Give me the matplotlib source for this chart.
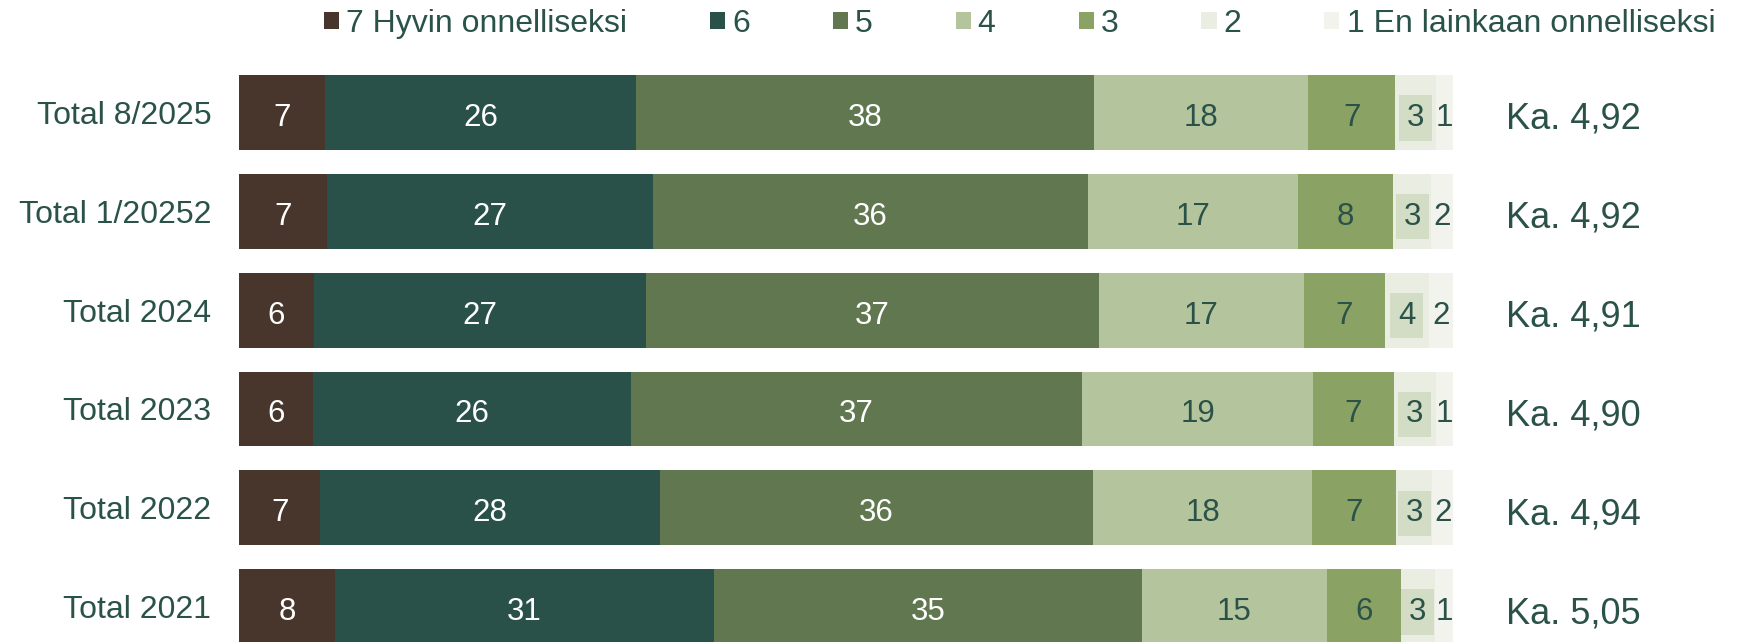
import matplotlib
matplotlib.use("Agg")
import matplotlib.pyplot as plt
from matplotlib.patches import Patch
import matplotlib.transforms as mtransforms

plt.rcParams['font.family'] = ['Liberation Sans', 'DejaVu Sans']

rows = ["Total 8/2025", "Total 1/20252", "Total 2024", "Total 2023", "Total 2022", "Total 2021"]
v7 = [7.11, 7.27, 6.18, 6.12, 6.70, 7.93]
v6 = [25.57, 26.85, 27.36, 26.17, 28.00, 31.19]
v5 = [37.72, 35.81, 37.30, 37.15, 35.65, 35.24]
v4 = [17.69, 17.30, 16.89, 19.03, 18.04, 15.26]
v3 = [7.14, 7.83, 6.67, 6.67, 6.92, 6.07]
v2 = [3.38, 3.13, 3.62, 3.45, 2.99, 2.83]
v1 = [1.40, 1.81, 1.98, 1.41, 1.71, 1.48]
means = [4.92, 4.92, 4.91, 4.90, 4.94, 5.05]
legend_labels = ["7 Hyvin onnelliseksi", "6", "5", "4", "3", "2", "1 En lainkaan onnelliseksi"]

series = [v7, v6, v5, v4, v3, v2, v1]
colors = ["#48352C", "#29514A", "#61774F", "#B4C49C", "#8AA263", "#E9EDE2", "#F1F3EC"]
txt_colors = ["white", "white", "white", "#2B5249", "#2B5249", "#2B5249", "#2B5249"]
dark = "#2B5249"

fig = plt.figure(figsize=(17.44, 6.42), dpi=100)
ax = fig.add_axes([239 / 1744, 0, 1214 / 1744, 1])

y = list(range(len(rows)))
left = [0.0] * len(rows)
for k, vals in enumerate(series):
    ax.barh(y, vals, left=left, height=0.757, color=colors[k], linewidth=0)
    for i, v in enumerate(vals):
        cx = left[i] + v / 2
        if k == 5:
            ax.text(cx, i + 0.02, f"{v:.0f}", ha="center", va="center_baseline", fontsize=22.5,
                    color=txt_colors[k],
                    bbox=dict(boxstyle="square,pad=0.25", fc="#D3DDC5", ec="none"))
        else:
            ax.text(cx, i + 0.02, f"{v:.0f}", ha="center", va="center_baseline", fontsize=22.5,
                    color=txt_colors[k])
    left = [a + b for a, b in zip(left, vals)]

ax.set_xlim(0, 100)
ax.set_ylim(5.356, -1.1355)
ax.set_yticks(y)
ax.set_yticklabels(rows, fontsize=23, color=dark, va="center_baseline")
ax.tick_params(axis="y", length=0, pad=20)
ax.set_xticks([])
for s in ax.spines.values():
    s.set_visible(False)

trans = mtransforms.blended_transform_factory(fig.transFigure, ax.transData)
for i, m in enumerate(means):
    ax.text(1573 / 1744, i + 0.03, "Ka. " + f"{m:.2f}".replace(".", ","), transform=trans,
            ha="center", va="center_baseline", fontsize=26, color=dark)

handles = [Patch(facecolor=c, edgecolor="none") for c in colors]
fig.legend(handles, legend_labels, loc="center", bbox_to_anchor=(1019.5 / 1744, 1 - 24 / 642),
           ncol=7, frameon=False, fontsize=23, handlelength=0.47, handleheight=0.47,
           handletextpad=0.22, columnspacing=2.6, borderpad=0, labelcolor=dark)

fig.savefig("out.png", dpi=100)
